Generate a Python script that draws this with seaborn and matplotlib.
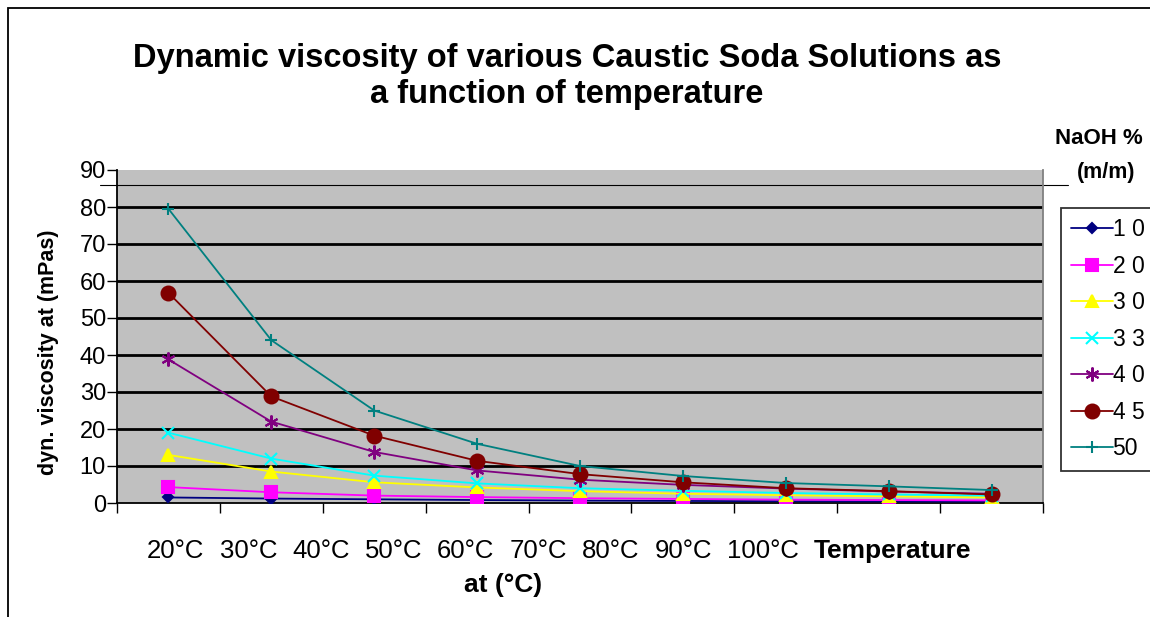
import numpy as np
import pandas as pd
import matplotlib
matplotlib.use("Agg")
import matplotlib.pyplot as plt
import seaborn as sns
from matplotlib.patches import Rectangle

temps = ["20°C", "30°C", "40°C", "50°C", "60°C", "70°C", "80°C", "90°C", "100°C"]
labels = ["1 0", "2 0", "3 0", "3 3", "4 0", "4 5", "50"]
v10 = [1.5, 1.2, 1.0, 0.8, 0.65, 0.55, 0.48, 0.42, 0.38]
v20 = [4.3, 2.9, 2.0, 1.6, 1.3, 1.1, 0.9, 0.8, 0.7]
v30 = [13.0, 8.5, 5.6, 4.2, 3.2, 2.5, 2.1, 1.8, 1.5]
v33 = [19.0, 12.0, 7.4, 5.3, 4.0, 3.3, 2.7, 2.3, 2.0]
v40 = [38.8, 22.0, 13.8, 8.8, 6.3, 4.9, 3.9, 3.1, 2.5]
v45 = [56.8, 28.8, 18.2, 11.4, 7.8, 5.6, 4.0, 3.2, 2.3]
v50 = [79.5, 44.0, 25.0, 16.0, 10.0, 7.3, 5.4, 4.5, 3.5]
series = [v10, v20, v30, v33, v40, v45, v50]

colors = ["#000080", "#FF00FF", "#FFFF00", "#00FFFF", "#800080", "#800000", "#008080"]
markers = ["D", "s", "^", "x", (6, 2, 0), "o", "+"]
msizes = [5, 9, 9, 8, 10, 10, 9]

sns.set_theme(style="white")
plt.rcParams["font.family"] = ["Liberation Sans", "DejaVu Sans"]
plt.rcParams["text.color"] = "black"
plt.rcParams["axes.labelcolor"] = "black"
plt.rcParams["xtick.color"] = "black"
plt.rcParams["ytick.color"] = "black"

W, H = 1150, 617
fig = plt.figure(figsize=(W / 100, H / 100), dpi=100)
fig.patch.set_facecolor("white")
L, R, T, B = 117, 1043, 170, 503
ax = fig.add_axes([L / W, 1 - B / H, (R - L) / W, (B - T) / H])
ax.set_facecolor("#C0C0C0")

rows = []
for lab, vals in zip(labels, series):
    for i, v in enumerate(vals):
        rows.append({"pos": i, "temp": temps[i], "naoh": lab, "visc": v})
df = pd.DataFrame(rows)

for lab, c, m, ms in zip(labels, colors, markers, msizes):
    sub = df[df["naoh"] == lab]
    sns.lineplot(data=sub, x="pos", y="visc", ax=ax, color=c, marker=m,
                 markersize=ms, markeredgecolor=c, markerfacecolor=c,
                 markeredgewidth=1.5, linewidth=1.3, label=lab, zorder=3)

ax.set_xlim(-0.5, len(temps) - 0.5)
ax.set_ylim(0, 90)
ax.set_yticks(np.arange(0, 91, 10))
ax.set_xticks(np.arange(-0.5, len(temps), 1.0))
ax.set_xticklabels([])
ax.set_xlabel("")
ax.set_ylabel("dyn. viscosity at (mPas)", fontsize=15.5, fontweight="bold")
ax.yaxis.set_label_coords(-(117 - 59) / (R - L), (503 - 352) / (B - T))
ax.tick_params(axis="y", labelsize=17, length=7, width=1, direction="out", left=True, pad=1)
ax.tick_params(axis="x", length=7, width=1, direction="out", bottom=True)
for yv in range(10, 90, 10):
    ax.axhline(yv, color="black", lw=2, zorder=1)
ax.axhline(86, xmin=-0.018, xmax=1.027, color="black", lw=0.8, clip_on=False, zorder=1)
for s in ["left", "bottom"]:
    ax.spines[s].set_color("black")
    ax.spines[s].set_linewidth(1.3)
ax.spines["top"].set_visible(False)
ax.spines["right"].set_color("#808080")
ax.spines["right"].set_linewidth(1.3)

leg = ax.legend(loc="upper left", bbox_to_anchor=(1061 / W, 1 - 208 / H),
                bbox_transform=fig.transFigure, frameon=True, fancybox=False,
                fontsize=16.5, handlelength=1.8, handletextpad=0.0,
                labelspacing=0.59, borderpad=0.45, borderaxespad=0)
leg.get_frame().set_edgecolor("black")
leg.get_frame().set_linewidth(1.3)
leg.get_frame().set_facecolor("white")

fig.text(0.493, 1 - 58 / H, "Dynamic viscosity of various Caustic Soda Solutions as",
         ha="center", va="center", fontsize=23.5, fontweight="bold")
fig.text(0.493, 1 - 95 / H, "a function of temperature",
         ha="center", va="center", fontsize=23.5, fontweight="bold")
fig.text(1055 / W, 1 - 139 / H, "NaOH %", ha="left", va="center", fontsize=16, fontweight="bold")
fig.text(1106 / W, 1 - 172 / H, "(m/m)", ha="center", va="center", fontsize=15.5, fontweight="bold")

for i, t in enumerate(temps):
    fig.text((147 + 72.5 * i) / W, 1 - 551 / H, t, ha="left", va="center", fontsize=18.5)
fig.text(892 / W, 1 - 551 / H, "Temperature", ha="center", va="center", fontsize=19, fontweight="bold")
fig.text(503 / W, 1 - 585 / H, "at (°C)", ha="center", va="center", fontsize=19, fontweight="bold")

fig.add_artist(Rectangle((8 / W, -0.1), 1.2, 1 - 8 / H + 0.1, transform=fig.transFigure,
                         fill=False, edgecolor="black", lw=1.3, clip_on=False))

fig.savefig("out.png", dpi=100)
